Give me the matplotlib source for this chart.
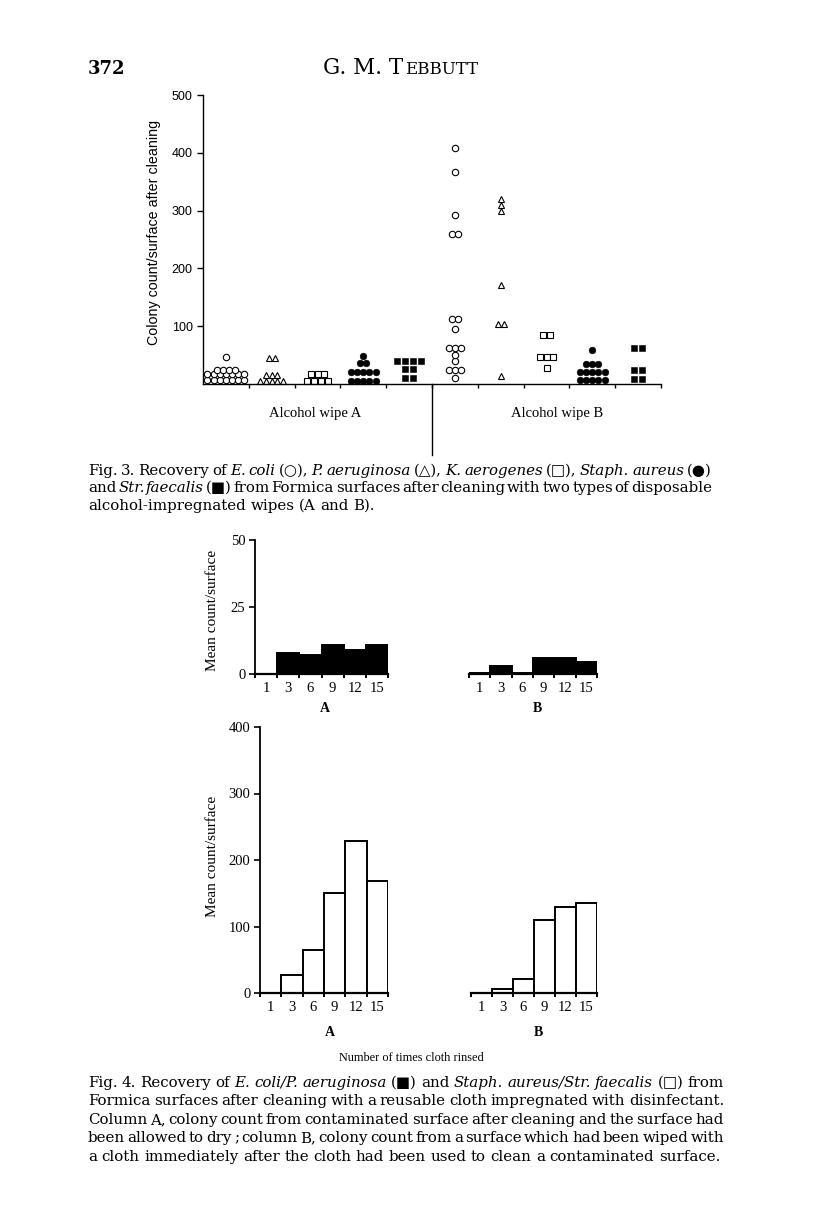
import matplotlib
matplotlib.use('Agg')
import matplotlib.pyplot as plt
import numpy as np
from collections import Counter

W, H = 816, 1225
SERIF = ['Liberation Serif', 'DejaVu Serif', 'DejaVu Sans']
BOOK = ['DejaVu Serif', 'DejaVu Sans']
SANS = ['Liberation Sans', 'DejaVu Sans']

# Fig. 3 - colony count/surface after cleaning, one value per surface
ecoli_a = [7, 7, 7, 7, 7, 7, 7, 17, 17, 17, 17, 17, 17, 17, 25, 25, 25, 25, 47]
paer_a = [5, 5, 5, 5, 5, 15, 15, 15, 45, 45]
kaer_a = [5, 5, 5, 5, 17, 17, 17]
staph_a = [6, 6, 6, 6, 6, 20, 20, 20, 20, 20, 37, 37, 48]
strf_a = [10, 10, 26, 26, 39, 39, 39, 39]
ecoli_b = [10, 25, 25, 25, 39, 50, 62, 62, 62, 95, 112, 112, 259, 259, 292, 367, 409]
paer_b = [13, 104, 104, 172, 300, 310, 320]
kaer_b = [27, 46, 46, 46, 84, 84]
staph_b = [7, 7, 7, 7, 7, 21, 21, 21, 21, 21, 35, 35, 35, 59]
strf_b = [8, 8, 25, 25, 62, 62]

# Fig. 4 - mean count/surface by number of times cloth rinsed
rinses = ['1', '3', '6', '9', '12', '15']
ecpa_a = [0, 8, 7, 11, 9, 11]
ecpa_b = [0.5, 3, 0.5, 6, 6, 4.5]
safs_a = [0, 27, 65, 151, 229, 169]
safs_b = [0, 6, 21, 110, 130, 136]

fig = plt.figure(figsize=(W / 100, H / 100), dpi=100)
renderer = fig.canvas.get_renderer()


def px_rect(x0, y0, x1, y1):
    return [x0 / W, 1 - y1 / H, (x1 - x0) / W, (y1 - y0) / H]


def ftext(x, y, s, **kw):
    return fig.text(x / W, 1 - y / H, s, **kw)


def text_width(t):
    return t.get_window_extent(renderer).width


CAP_SIZE = 10.8


def caption_line(y, line, x0, x1, justify=True, size=CAP_SIZE):
    words = []
    for i, part in enumerate(line.split('_')):
        for w in part.split():
            words.append((w, i % 2 == 1))
    texts = [ftext(0, y, w, family=BOOK, size=size, va='baseline',
                   style='italic' if it else 'normal') for w, it in words]
    widths = [text_width(t) for t in texts]
    if justify and len(texts) > 1:
        gap = (x1 - x0 - sum(widths)) / (len(texts) - 1)
    else:
        gap = 0.3 * size * 100 / 72
    x = x0
    for t, w in zip(texts, widths):
        t.set_x(x / W)
        x += w + gap


# header
ftext(88, 74, '372', family=BOOK, size=13, weight='bold', va='baseline')
t1 = ftext(0, 74, 'G. M. T', family=BOOK, size=15.5, va='baseline')
t2 = ftext(0, 74, 'EBBUTT', family=BOOK, size=12, va='baseline')
w1, w2 = text_width(t1), text_width(t2)
xs = 400 - (w1 + w2) / 2
t1.set_x(xs / W)
t2.set_x((xs + w1 + 1) / W)

# ---- Fig. 3 ----
ax = fig.add_axes(px_rect(203, 95, 661, 384))
ax.set_xlim(0, 10)
ax.set_ylim(0, 500)
for s in ['top', 'right']:
    ax.spines[s].set_visible(False)
for s in ['left', 'bottom']:
    ax.spines[s].set_linewidth(1.0)
ax.set_yticks([100, 200, 300, 400, 500])
ax.set_yticklabels(['100', '200', '300', '400', '500'], family=SANS, size=9)
ax.set_xticks(np.arange(1, 11))
ax.set_xticklabels([])
ax.tick_params(axis='y', direction='out', length=4.5, width=1.0, pad=3)
ax.tick_params(axis='x', direction='out', length=3, width=1.0)
ax.plot([5, 5], [0, -123], color='black', lw=1.0, clip_on=False)

# (values, marker, face, size, spacing)
series3 = [
    (ecoli_a, 'o', 'white', 4.6, 0.135),
    (paer_a, '^', 'white', 4.8, 0.125),
    (kaer_a, 's', 'white', 4.8, 0.15),
    (staph_a, 'o', 'black', 4.8, 0.135),
    (strf_a, 's', 'black', 5.0, 0.17),
    (ecoli_b, 'o', 'white', 4.6, 0.135),
    (paer_b, '^', 'white', 4.8, 0.125),
    (kaer_b, 's', 'white', 4.8, 0.15),
    (staph_b, 'o', 'black', 4.8, 0.135),
    (strf_b, 's', 'black', 5.0, 0.17),
]
for gi, (vals, mk, fc, ms, step) in enumerate(series3):
    counts = Counter(vals)
    xs_, ys_ = [], []
    for v, n in counts.items():
        for k in range(n):
            xs_.append(gi + 0.5 + (k - (n - 1) / 2) * step)
            ys_.append(v)
    ax.plot(xs_, ys_, ls='none', marker=mk, ms=ms, mfc=fc, mec='black',
            mew=0.8 if fc == 'white' else 0.4, clip_on=False)

ftext(154, 232, 'Colony count/surface after cleaning', family=SANS, size=10.3,
      rotation=90, ha='center', va='center')
ftext(315, 413, 'Alcohol wipe A', family=SERIF, size=10.5, ha='center', va='center')
ftext(557, 413, 'Alcohol wipe B', family=SERIF, size=10.5, ha='center', va='center')

caption_line(475, 'Fig. 3.  Recovery of _E. coli_ (○), _P. aeruginosa_ (△), '
                  '_K. aerogenes_ (□), _Staph. aureus_ (●)', 88, 712)
caption_line(492, 'and _Str. faecalis_ (■) from Formica surfaces after cleaning '
                  'with two types of disposable', 88, 712)
caption_line(510, 'alcohol-impregnated wipes (A and B).', 88, 712, justify=False)


# ---- Fig. 4 ----
def bar_panel(rect, vals, ymax, yticks, fill, show_y):
    a = fig.add_axes(px_rect(*rect))
    x = np.arange(len(vals))
    a.bar(x, vals, width=1.0, color=fill, edgecolor='black', linewidth=1.4)
    a.set_xlim(-0.5, len(vals) - 0.5)
    a.set_ylim(0, ymax)
    for s in ['top', 'right']:
        a.spines[s].set_visible(False)
    a.spines['bottom'].set_linewidth(1.6)
    a.spines['left'].set_linewidth(1.3)
    a.set_xticks(x)
    a.set_xticklabels(rinses, family=SERIF, size=10.5)
    a.set_xticks(np.arange(-0.5, len(vals)), minor=True)
    a.tick_params(axis='x', which='major', length=0, pad=6)
    a.tick_params(axis='x', which='minor', length=3, width=1.4, direction='out')
    if show_y:
        a.set_yticks(yticks)
        a.set_yticklabels([str(v) for v in yticks], family=SERIF, size=10.5)
        a.tick_params(axis='y', direction='out', length=4, width=1.2, pad=3)
    else:
        a.spines['left'].set_visible(False)
        a.set_yticks([])
    return a


bar_panel((255, 540, 388, 674), ecpa_a, 50, [0, 25, 50], 'black', True)
bar_panel((469, 540, 597, 674), ecpa_b, 50, [0, 25, 50], 'black', False)
bar_panel((260, 727, 388, 993), safs_a, 400, [0, 100, 200, 300, 400], 'white', True)
bar_panel((471, 727, 597, 993), safs_b, 400, [0, 100, 200, 300, 400], 'white', False)

ftext(213, 610, 'Mean count/surface', family=SERIF, size=11, rotation=90,
      ha='center', va='center')
ftext(213, 856, 'Mean count/surface', family=SERIF, size=11, rotation=90,
      ha='center', va='center')
for x, y, s in [(325, 709, 'A'), (537, 709, 'B'), (330, 1033, 'A'), (538, 1033, 'B')]:
    ftext(x, y, s, family=SERIF, size=10, weight='bold', ha='center', va='center')
ftext(411, 1058, 'Number of times cloth rinsed', family=SERIF, size=8.8,
      ha='center', va='center')

caption_line(1087, 'Fig. 4.  Recovery of _E. coli/P. aeruginosa_ (■) and '
                   '_Staph. aureus/Str. faecalis_ (□) from', 88, 724)
caption_line(1105, 'Formica surfaces after cleaning with a reusable cloth '
                   'impregnated with disinfectant.', 88, 724)
caption_line(1124, 'Column A, colony count from contaminated surface after '
                   'cleaning and the surface had', 88, 724)
caption_line(1142, 'been allowed to dry ; column B, colony count from a surface '
                   'which had been wiped with', 88, 724)
caption_line(1161, 'a cloth immediately after the cloth had been used to clean '
                   'a contaminated surface.', 88, 720)

fig.savefig('out.png', dpi=100)
